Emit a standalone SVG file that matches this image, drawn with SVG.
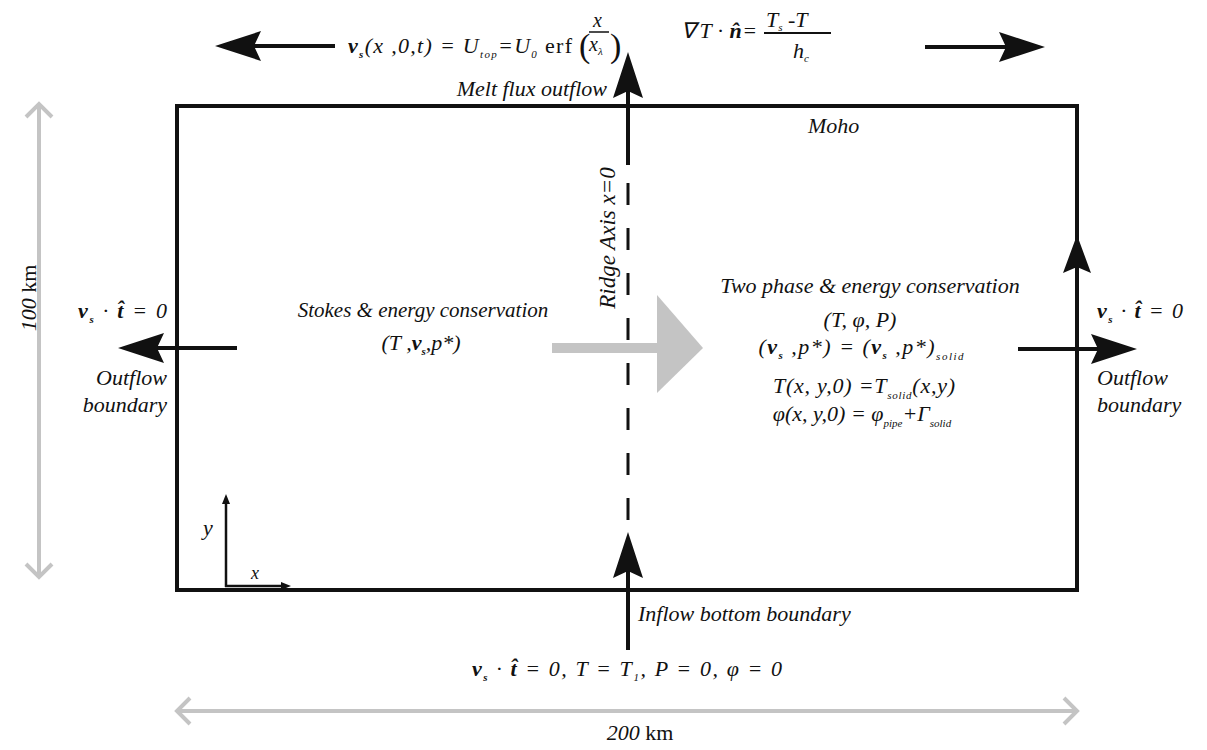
<svg xmlns="http://www.w3.org/2000/svg" width="1207" height="750" viewBox="0 0 1207 750">
<style>
.t{font-family:'Liberation Serif',serif;font-style:italic;font-size:22px;fill:#111}
.up{font-style:normal}
.b{font-weight:bold}
.s{font-size:11px}
.blk{stroke:#111;stroke-width:4;fill:none}
.gry{stroke:#c4c4c4;stroke-width:4;fill:none}
</style>
<defs>
<marker id="ah" viewBox="0 0 46 30" refX="7" refY="15" markerWidth="46" markerHeight="30" markerUnits="userSpaceOnUse" orient="auto"><path d="M0,0 L46,15 L0,30 L7,15 Z" fill="#111"/></marker>
<marker id="ahs" viewBox="0 0 38 28" refX="6" refY="14" markerWidth="38" markerHeight="28" markerUnits="userSpaceOnUse" orient="auto"><path d="M0,0 L38,14 L0,28 L6,14 Z" fill="#111"/></marker>
<marker id="axm" viewBox="0 0 10 10" refX="2" refY="5" markerWidth="10" markerHeight="10" markerUnits="userSpaceOnUse" orient="auto"><path d="M0,1 L10,5 L0,9 Z" fill="#111"/></marker>
<marker id="chev" viewBox="0 0 18 30" refX="15" refY="15" markerWidth="18" markerHeight="30" markerUnits="userSpaceOnUse" orient="auto-start-reverse"><path d="M2,2 L15,15 L2,28" fill="none" stroke="#c4c4c4" stroke-width="4"/></marker>
</defs>

<g id="domain">
<rect x="177" y="106" width="900" height="484" class="blk" stroke-width="3.5"/>
</g>

<g id="connectors">
<line x1="335" y1="46" x2="254" y2="46" class="blk" marker-end="url(#ah)"/>
<line x1="925" y1="47" x2="1006" y2="47" class="blk" marker-end="url(#ah)"/>
<line x1="237" y1="348" x2="157" y2="348" class="blk" marker-end="url(#ah)"/>
<line x1="1018" y1="349" x2="1098" y2="349" class="blk" marker-end="url(#ah)"/>
<line x1="628" y1="165" x2="628" y2="91" class="blk" marker-end="url(#ah)"/>
<line x1="628" y1="650" x2="628" y2="571" class="blk" marker-end="url(#ah)"/>
<line x1="1077" y1="300" x2="1077" y2="267" class="blk" marker-end="url(#ahs)"/>
<line x1="628" y1="183" x2="628" y2="520" stroke="#111" stroke-width="3" stroke-dasharray="22 23"/>
<line x1="226" y1="587" x2="226" y2="502" stroke="#111" stroke-width="2.5" marker-end="url(#axm)"/>
<line x1="225" y1="586" x2="283" y2="586" stroke="#111" stroke-width="2.5" marker-end="url(#axm)"/>
<line x1="39" y1="104" x2="39" y2="577" class="gry" marker-start="url(#chev)" marker-end="url(#chev)"/>
<line x1="177" y1="711" x2="1077" y2="711" class="gry" marker-start="url(#chev)" marker-end="url(#chev)"/>
<g id="transfer-arrow" fill="#c4c4c4">
<rect x="552" y="343" width="106" height="10"/>
<polygon points="657,295 703,348 657,393"/>
</g>
</g>

<g id="top-velocity-bc">
<text class="t" x="348" y="53" textLength="224" lengthAdjust="spacing"><tspan class="b">v</tspan><tspan class="s b" dy="5">s</tspan><tspan dy="-5">(x ,0,t) = U</tspan><tspan class="s" dy="5">top</tspan><tspan dy="-5">=U</tspan><tspan class="s" dy="5">0</tspan><tspan dy="-5" class="up"> erf</tspan></text>
<text class="t up" x="579" y="57" style="font-size:34px">(</text>
<text class="t" x="593" y="27" style="font-size:20px">x</text>
<line x1="589" y1="32" x2="609" y2="32" stroke="#111" stroke-width="1.5"/>
<text class="t" x="589" y="51" style="font-size:20px">x<tspan class="s" dy="4">λ</tspan></text>
<text class="t up" x="610" y="57" style="font-size:34px">)</text>
</g>

<g id="top-thermal-bc">
<text class="t" x="681" y="38" textLength="76" lengthAdjust="spacing">∇<tspan dx="3">T</tspan> · <tspan class="b">n̂</tspan>=</text>
<text class="t" x="766" y="27">T<tspan class="s" dy="4">s</tspan><tspan dy="-4"> -T</tspan></text>
<line x1="764" y1="33" x2="831" y2="33" stroke="#111" stroke-width="2"/>
<text class="t" x="793" y="58">h<tspan class="s" dy="4">c</tspan></text>
</g>

<g id="melt-flux"><text class="t" x="607" y="96" text-anchor="end">Melt flux outflow</text></g>
<g id="moho"><text class="t" x="808" y="133">Moho</text></g>
<g id="ridge-axis"><text class="t" transform="translate(615,238) rotate(-90)" text-anchor="middle" style="font-size:23px">Ridge Axis x=0</text></g>

<g id="stokes-region">
<text class="t" x="423" y="317" text-anchor="middle" style="font-size:21px">Stokes &amp; energy conservation</text>
<text class="t" x="421" y="350" text-anchor="middle">(T ,<tspan class="b">v</tspan><tspan class="s b" dy="5">s</tspan><tspan dy="-5">,p*)</tspan></text>
</g>

<g id="two-phase-region">
<text class="t" x="870" y="293" text-anchor="middle">Two phase &amp; energy conservation</text>
<text class="t" x="860" y="327" text-anchor="middle">(T, φ, P)</text>
<text class="t" x="861" y="354" text-anchor="middle" textLength="205" lengthAdjust="spacing">(<tspan class="b">v</tspan><tspan class="s b" dy="5">s</tspan><tspan dy="-5"> ,p*) = (</tspan><tspan class="b">v</tspan><tspan class="s b" dy="5">s</tspan><tspan dy="-5"> ,p*)</tspan><tspan class="s" dy="6">solid</tspan></text>
<text class="t" x="864" y="393" text-anchor="middle" textLength="182" lengthAdjust="spacing">T(x, y,0) =T<tspan class="s" dy="6">solid</tspan><tspan dy="-6">(x,y)</tspan></text>
<text class="t" x="862" y="421" text-anchor="middle">φ(x, y,0) = φ<tspan class="s" dy="6">pipe</tspan><tspan dy="-6">+Γ</tspan><tspan class="s" dy="6">solid</tspan></text>
</g>

<g id="left-bc">
<text class="t" x="78" y="318" textLength="89" lengthAdjust="spacing"><tspan class="b">v</tspan><tspan class="s b" dy="5">s</tspan><tspan dy="-5"> · </tspan><tspan class="b">t̂</tspan> = 0</text>
<text class="t" x="167" y="385" text-anchor="end">Outflow</text>
<text class="t" x="167" y="412" text-anchor="end">boundary</text>
</g>

<g id="right-bc">
<text class="t" x="1097" y="318" textLength="86" lengthAdjust="spacing"><tspan class="b">v</tspan><tspan class="s b" dy="5">s</tspan><tspan dy="-5"> · </tspan><tspan class="b">t̂</tspan> = 0</text>
<text class="t" x="1097" y="385">Outflow</text>
<text class="t" x="1097" y="412">boundary</text>
</g>

<g id="bottom-bc">
<text class="t" x="472" y="676" textLength="310" lengthAdjust="spacing"><tspan class="b">v</tspan><tspan class="s b" dy="5">s</tspan><tspan dy="-5"> · </tspan><tspan class="b">t̂</tspan><tspan> = 0, T = T</tspan><tspan class="s" dy="5">1</tspan><tspan dy="-5">,  P = 0, φ = 0</tspan></text>
<text class="t" x="638" y="621">Inflow bottom boundary</text>
</g>

<g id="axes-labels">
<text class="t" x="203" y="535">y</text>
<text class="t" x="251" y="579" style="font-size:18px">x</text>
</g>

<g id="dimensions">
<text class="t" x="640" y="740" text-anchor="middle">200<tspan class="up"> km</tspan></text>
<text class="t" transform="translate(36,298) rotate(-90)" text-anchor="middle">100<tspan class="up"> km</tspan></text>
</g>
</svg>
